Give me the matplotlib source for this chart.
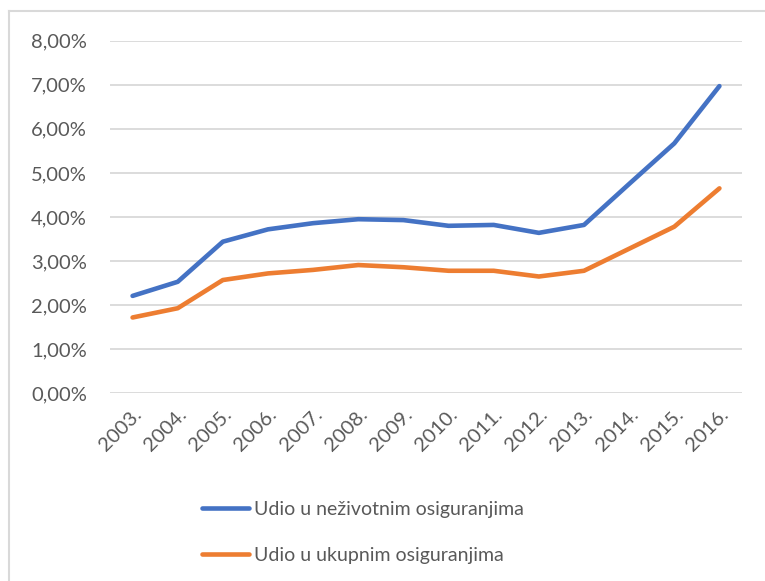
import matplotlib
matplotlib.use("Agg")
import matplotlib.pyplot as plt
from matplotlib.lines import Line2D
from matplotlib.ticker import FuncFormatter

years = ["2003.", "2004.", "2005.", "2006.", "2007.", "2008.", "2009.",
         "2010.", "2011.", "2012.", "2013.", "2014.", "2015.", "2016."]
nezivotno = [2.21, 2.53, 3.44, 3.72, 3.86, 3.95, 3.93, 3.80, 3.82, 3.64, 3.82, 4.75, 5.67, 6.97]
ukupno = [1.72, 1.93, 2.57, 2.72, 2.80, 2.91, 2.86, 2.78, 2.78, 2.65, 2.78, 3.28, 3.78, 4.65]
label_blue = "Udio u neživotnim osiguranjima"
label_orange = "Udio u ukupnim osiguranjima"

plt.rcParams['font.family'] = ['Lato', 'DejaVu Sans']
text_color = '#595959'

fig = plt.figure(figsize=(7.65, 5.81), dpi=100)
ax = fig.add_axes([110/765, 1-393.3/581, (742-110)/765, (393.3-40.7)/581])

x = list(range(len(years)))
ax.plot(x, [v/100 for v in nezivotno], color='#4472C4', lw=3.3, solid_capstyle='round',
        solid_joinstyle='round', label=label_blue, zorder=3)
ax.plot(x, [v/100 for v in ukupno], color='#ED7D31', lw=3.3, solid_capstyle='round',
        solid_joinstyle='round', label=label_orange, zorder=3)

ax.set_xlim(-0.5, len(years)-0.5)
ax.set_ylim(0, 0.08)
ax.set_yticks([i/100 for i in range(9)])
ax.yaxis.set_major_formatter(FuncFormatter(lambda v, p: f"{v*100:.2f}%".replace('.', ',')))
ax.set_xticks(x)
ax.set_xticklabels(years, rotation=45, ha='right', rotation_mode='anchor')
ax.grid(axis='y', color='#D9D9D9', lw=1.3)
ax.set_axisbelow(True)
for s in ax.spines.values():
    s.set_visible(False)
ax.tick_params(axis='both', length=0, colors=text_color, labelsize=14.5)
ax.tick_params(axis='y', pad=16.5)
ax.tick_params(axis='x', pad=9)

# legend handles
h1 = Line2D([0], [0], color='#4472C4', lw=3.3, solid_capstyle='round')
h2 = Line2D([0], [0], color='#ED7D31', lw=3.3, solid_capstyle='round')
leg = fig.legend([h1, h2], [label_blue, label_orange], loc='upper left',
                 bbox_to_anchor=(202/765, 1-501/581), frameon=False, fontsize=14,
                 handlelength=2.4, handletextpad=0.25, labelspacing=1.5, borderaxespad=0,
                 borderpad=0)
for t in leg.get_texts():
    t.set_color(text_color)

# border lines (top and left)
fig.add_artist(Line2D([9/765, 1], [1-11/581, 1-11/581], color='#D9D9D9', lw=1.5,
                      transform=fig.transFigure))
fig.add_artist(Line2D([9/765, 9/765], [0, 1-11/581], color='#D9D9D9', lw=1.5,
                      transform=fig.transFigure))

fig.savefig("out.png", dpi=100)
